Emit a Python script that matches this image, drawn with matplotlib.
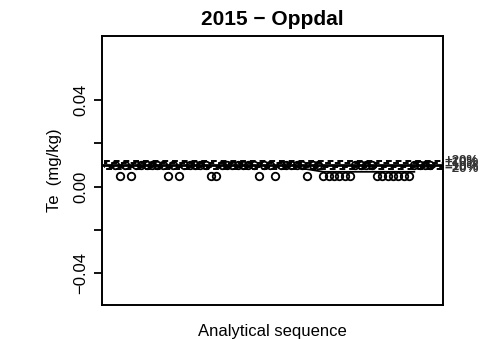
import matplotlib
matplotlib.use("Agg")
import matplotlib.pyplot as plt

plt.rcParams['font.family'] = ['Liberation Sans', 'DejaVu Sans']

# values (mg/kg), 60 samples in analytical order
low_idx = [2, 4, 11, 13, 19, 20, 28, 31, 37, 40, 41, 42, 43, 44, 45,
           50, 51, 52, 53, 54, 55, 56]
n_samples = 60
te_values = [0.005 if i in low_idx else 0.01 for i in range(1, n_samples + 1)]
seq = list(range(1, n_samples + 1))

ref_value = 0.01
pct_levels = [0.2, 0.1, -0.1, -0.2]
pct_labels = ["+20%", "+10%", "\u221210%", "\u221220%"]

trend_x = [36, 40, 57]
trend_y = [0.0085, 0.0069, 0.0069]

fig = plt.figure(figsize=(4.95, 3.39), dpi=100)
ax = fig.add_axes([102 / 495, 1 - 305 / 339, 341 / 495, 269 / 339])

ax.plot(seq, te_values, linestyle="none", marker="o", markersize=5.4,
        markerfacecolor="none", markeredgecolor="black", markeredgewidth=1.3)
ax.axhline(ref_value, color="black", lw=2.0)
for k, (p, lab) in enumerate(zip(pct_levels, pct_labels)):
    y = ref_value * (1 + p)
    ax.plot([seq[0] - 2, seq[-1] + 2.6], [y, y], color="black", lw=1.4,
            linestyle=(k * 1.3, (3, 2)), clip_on=False)
    ax.text(1.003, y, lab, transform=ax.get_yaxis_transform(), fontsize=9.5,
            fontweight="bold", color="#333333", va="center", ha="left")
ax.plot(trend_x, trend_y, color="black", lw=1.3)

ax.set_xlim(1 - 0.04 * (n_samples - 1), n_samples + 0.04 * (n_samples - 1))
ax.set_ylim(-0.0546, 0.0696)
ax.set_xticks([])
ax.set_yticks([-0.04, -0.02, 0.0, 0.02, 0.04])
ax.set_yticklabels(["\u22120.04", "", "0.00", "", "0.04"], rotation=90, va="center")
ax.tick_params(axis="y", length=6, width=1.3, labelsize=12, pad=4)
for s in ax.spines.values():
    s.set_linewidth(1.4)

ax.set_title("2015 \u2212 Oppdal", fontsize=15, fontweight="bold", pad=8)
ax.set_xlabel("Analytical sequence", fontsize=12, labelpad=14)
ax.set_ylabel("Te  (mg/kg)", fontsize=12, labelpad=8)

fig.savefig("out.png", dpi=100)
